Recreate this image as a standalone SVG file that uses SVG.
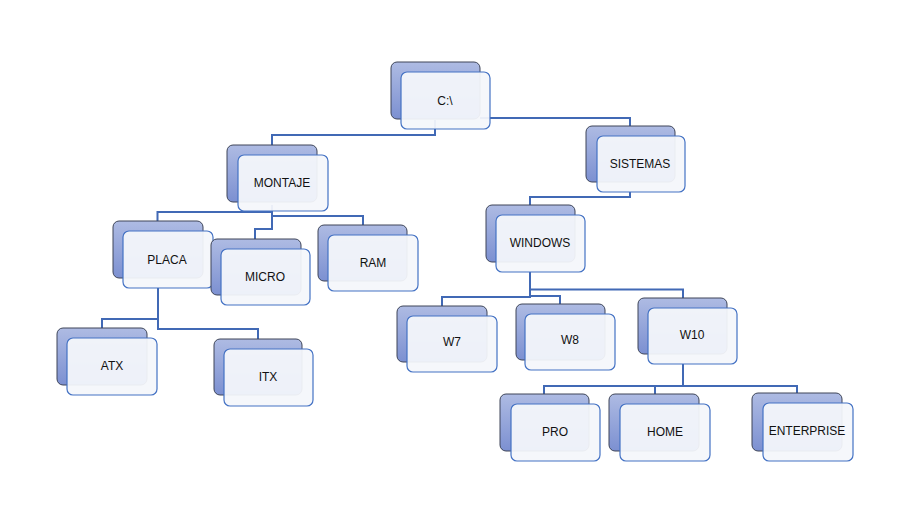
<svg xmlns="http://www.w3.org/2000/svg" width="919" height="528" viewBox="0 0 919 528">
<style>
.bk{fill:url(#g);stroke:#3e4559;stroke-width:1}
.fr{fill:#f4f6fb;fill-opacity:0.94;stroke:#4472c4;stroke-width:1.2}
.t{font-family:"Liberation Sans",Arial,sans-serif;font-size:12px;fill:#111;text-anchor:middle;dominant-baseline:central}
.c{fill:none;stroke:#4169b5;stroke-width:2}
</style>
<defs>
<linearGradient id="g" x1="0" y1="0" x2="0" y2="1">
<stop offset="0" stop-color="#aebbe3"/>
<stop offset="1" stop-color="#7c90d1"/>
</linearGradient>
</defs>
<rect width="919" height="528" fill="#fff"/>
<g id="connectors">
<path class="c" d="M435,120 V135 H272 V145"/>
<path class="c" d="M480,118 H630 V136"/>
<path class="c" d="M630,192 V197 H530 V205"/>
<path class="c" d="M272,205 V212 H157.5 V221"/>
<path class="c" d="M272,205 V216 H363 V225"/>
<path class="c" d="M272,205 V229 H255 V239"/>
<path class="c" d="M158,288 V319 H102 V328"/>
<path class="c" d="M158,288 V329 H258 V339"/>
<path class="c" d="M530,272 V297 H442 V306"/>
<path class="c" d="M530,272 V296 H560 V304"/>
<path class="c" d="M530,272 V289.5 H683 V298"/>
<path class="c" d="M683,364 V386 H544 V394"/>
<path class="c" d="M655,386 V394"/>
<path class="c" d="M683,386 H797 V393"/>
</g>
<g id="n-c"><rect class="bk" x="391" y="62" width="89" height="57" rx="6"/><rect class="fr" x="401" y="72" width="89" height="57" rx="6"/><text class="t" x="445" y="101">C:\</text></g>
<g id="n-sistemas"><rect class="bk" x="586" y="126" width="89" height="56" rx="6"/><rect class="fr" x="597" y="136" width="88" height="56" rx="6"/><text class="t" x="640" y="164">SISTEMAS</text></g>
<g id="n-montaje"><rect class="bk" x="227" y="145" width="90" height="57" rx="6"/><rect class="fr" x="238" y="155" width="90" height="56" rx="6"/><text class="t" x="282" y="183">MONTAJE</text></g>
<g id="n-placa"><rect class="bk" x="113" y="221" width="90" height="57" rx="6"/><rect class="fr" x="123" y="231" width="90" height="57" rx="6"/><text class="t" x="167" y="260">PLACA</text></g>
<g id="n-micro"><rect class="bk" x="211" y="239" width="90" height="56" rx="6"/><rect class="fr" x="221" y="249" width="89" height="56" rx="6"/><text class="t" x="265" y="277">MICRO</text></g>
<g id="n-ram"><rect class="bk" x="318" y="225" width="89" height="56" rx="6"/><rect class="fr" x="328" y="235" width="90" height="56" rx="6"/><text class="t" x="373" y="263">RAM</text></g>
<g id="n-atx"><rect class="bk" x="57" y="328" width="90" height="57" rx="6"/><rect class="fr" x="67" y="338" width="90" height="57" rx="6"/><text class="t" x="112" y="366">ATX</text></g>
<g id="n-itx"><rect class="bk" x="214" y="339" width="88" height="56" rx="6"/><rect class="fr" x="224" y="349" width="89" height="57" rx="6"/><text class="t" x="268" y="377">ITX</text></g>
<g id="n-windows"><rect class="bk" x="486" y="205" width="89" height="57" rx="6"/><rect class="fr" x="496" y="215" width="89" height="57" rx="6"/><text class="t" x="540" y="243">WINDOWS</text></g>
<g id="n-w7"><rect class="bk" x="397" y="306" width="90" height="56" rx="6"/><rect class="fr" x="407" y="316" width="90" height="56" rx="6"/><text class="t" x="452" y="342">W7</text></g>
<g id="n-w8"><rect class="bk" x="516" y="304" width="89" height="56" rx="6"/><rect class="fr" x="525" y="314" width="90" height="56" rx="6"/><text class="t" x="570" y="340">W8</text></g>
<g id="n-w10"><rect class="bk" x="638" y="298" width="89" height="56" rx="6"/><rect class="fr" x="648" y="308" width="89" height="56" rx="6"/><text class="t" x="692" y="335">W10</text></g>
<g id="n-pro"><rect class="bk" x="500" y="394" width="89" height="57" rx="6"/><rect class="fr" x="511" y="404" width="89" height="57" rx="6"/><text class="t" x="555" y="432">PRO</text></g>
<g id="n-home"><rect class="bk" x="609" y="394" width="90" height="57" rx="6"/><rect class="fr" x="620" y="404" width="90" height="57" rx="6"/><text class="t" x="665" y="432">HOME</text></g>
<g id="n-enterprise"><rect class="bk" x="752" y="393" width="90" height="58" rx="6"/><rect class="fr" x="763" y="403" width="90" height="58" rx="6"/><text class="t" x="807" y="431">ENTERPRISE</text></g>
</svg>
